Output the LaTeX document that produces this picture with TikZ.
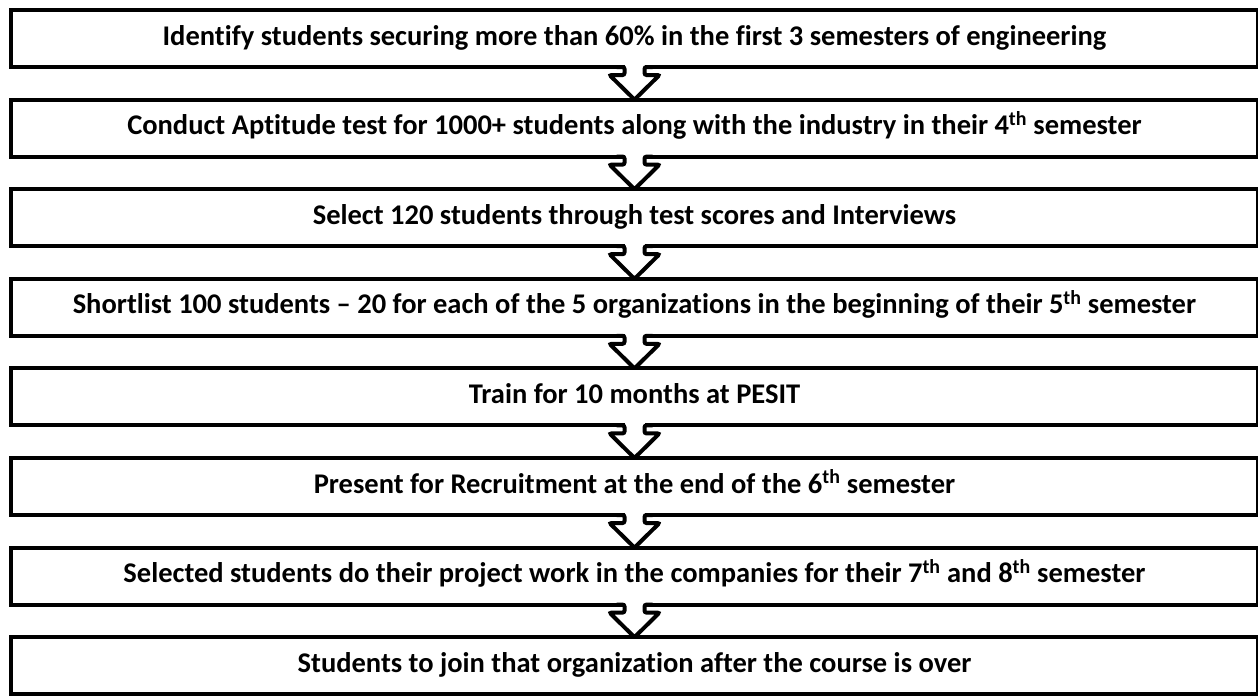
\documentclass[tikz,border=0pt]{standalone}
\usepackage{fontspec}
\setmainfont{Carlito}[RawFeature=-liga]
\begin{document}
\begin{tikzpicture}[x=1pt,y=-1pt,
	stagebox/.style={draw,line width=4pt,outer sep=0pt,inner sep=0pt,minimum width=1247pt,minimum height=57pt,text height=21pt,text depth=8pt,font=\fontsize{28.5}{32}\selectfont\bfseries},
	flowarrow/.style={line width=4pt,rounded corners=2pt}]
	\useasboundingbox (0,0) rectangle (1258,696);
	\node[stagebox] (s1) at (634.5,38.5) {Identify students securing more than 60\% in the first 3 semesters of engineering};
	\node[stagebox] (s2) at (634.5,128.1) {Conduct Aptitude test for 1000+ students along with the industry in their 4\textsuperscript{th} semester};
	\node[stagebox] (s3) at (634.5,217.7) {Select 120 students through test scores and Interviews};
	\node[stagebox] (s4) at (634.5,307.3) {Shortlist 100 students – 20 for each of the 5 organizations in the beginning of their 5\textsuperscript{th} semester};
	\node[stagebox] (s5) at (634.5,396.9) {Train for 10 months at PESIT};
	\node[stagebox] (s6) at (634.5,486.5) {Present for Recruitment at the end of the 6\textsuperscript{th} semester};
	\node[stagebox] (s7) at (634.5,576.1) {Selected students do their project work in the companies for their 7\textsuperscript{th} and 8\textsuperscript{th} semester};
	\node[stagebox] (s8) at (634.5,665.7) {Students to join that organization after the course is over};
	% block arrows between the stages
	\foreach \i [evaluate=\i as \j using int(\i+1)] in {1,...,7}{
		\begin{scope}[shift={(s\i.south)}]
			\fill[white] (-10,-3) rectangle (10,3);
			\draw[flowarrow] (-18,0) -- (-10,0) -- (-10,8) -- (-25,8) -- (s\j.north) -- (25,8) -- (10,8) -- (10,0) -- (18,0);
		\end{scope}
	}
\end{tikzpicture}
\end{document}
